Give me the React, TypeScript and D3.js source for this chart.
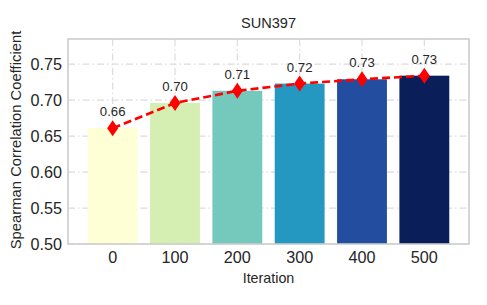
import { useMemo } from "react";
import { scaleBand, scaleLinear, line } from "d3";

const ITERATIONS = ["0", "100", "200", "300", "400", "500"];
const SCORES = [0.661, 0.696, 0.713, 0.723, 0.729, 0.734];
const SCORE_LABELS = ["0.66", "0.70", "0.71", "0.72", "0.73", "0.73"];
const BAR_COLORS = ["#ffffd6", "#d5efb3", "#74c9bc", "#2498c1", "#234ea0", "#0a1f5a"];
const Y_TICKS = [0.5, 0.55, 0.6, 0.65, 0.7, 0.75];

const W = 487;
const H = 305;
const FONT = "'Liberation Sans', Arial, sans-serif";
const TEXT = "#262626";

export default function App() {
  const left = 68;
  const right = 469;
  const top = 39;
  const bottom = 244;

  // matplotlib-ish x margins: bars span [-0.4, 5.4], padded 5%
  const x = useMemo(
    () =>
      scaleBand<string>()
        .domain(ITERATIONS)
        .range([left + 13.5, right - 13.5])
        .paddingInner(0.2)
        .paddingOuter(0.1),
    []
  );
  const y = useMemo(() => scaleLinear().domain([0.5, 0.785]).range([bottom, top]), []);

  const cx = (d: string) => (x(d) ?? 0) + x.bandwidth() / 2;
  const pts = ITERATIONS.map((d, i) => [cx(d), y(SCORES[i])] as [number, number]);
  const path = line()(pts) ?? "";

  const diamond = (px: number, py: number) =>
    `M${px},${py - 8} L${px + 5.5},${py} L${px},${py + 8} L${px - 5.5},${py} Z`;

  return (
    <>
      <style>{"body{margin:0}"}</style>
      <svg width={W} height={H} style={{ display: "block", background: "#fff" }} fontFamily={FONT}>
        {/* grid */}
        {Y_TICKS.map((t) => (
          <line
            key={`gy${t}`}
            x1={left}
            x2={right}
            y1={y(t)}
            y2={y(t)}
            stroke="#dcdcdc"
            strokeWidth={1.2}
            strokeDasharray="7 3 1.5 3"
          />
        ))}
        {ITERATIONS.map((d) => (
          <line
            key={`gx${d}`}
            x1={cx(d)}
            x2={cx(d)}
            y1={top}
            y2={bottom}
            stroke="#dcdcdc"
            strokeWidth={1.2}
            strokeDasharray="7 3 1.5 3"
          />
        ))}

        {/* bars */}
        {ITERATIONS.map((d, i) => (
          <rect
            key={`b${d}`}
            x={x(d)}
            y={y(SCORES[i])}
            width={x.bandwidth()}
            height={bottom - y(SCORES[i])}
            fill={BAR_COLORS[i]}
          />
        ))}

        {/* trend line */}
        <path d={path} fill="none" stroke="#ff0000" strokeWidth={2.6} strokeDasharray="8 4" />
        {pts.map(([px, py], i) => (
          <path key={`m${i}`} d={diamond(px, py)} fill="#ff0000" />
        ))}
        {pts.map(([px, py], i) => (
          <text
            key={`l${i}`}
            x={px}
            y={py - 12}
            textAnchor="middle"
            fontSize={13.2}
            fill={TEXT}
          >
            {SCORE_LABELS[i]}
          </text>
        ))}

        {/* frame */}
        <rect x={left} y={top} width={right - left} height={bottom - top} fill="none" stroke="#cccccc" strokeWidth={1.6} />

        {/* y ticks */}
        {Y_TICKS.map((t) => (
          <text key={`ty${t}`} x={left - 6} y={y(t) + 5.8} textAnchor="end" fontSize={16.2} fill={TEXT}>
            {t.toFixed(2)}
          </text>
        ))}
        {/* x ticks */}
        {ITERATIONS.map((d) => (
          <text key={`tx${d}`} x={cx(d)} y={bottom + 18.7} textAnchor="middle" fontSize={16.2} fill={TEXT}>
            {d}
          </text>
        ))}

        <text x={(left + right) / 2} y={28.3} textAnchor="middle" fontSize={14.6} fill={TEXT}>
          SUN397
        </text>
        <text x={(left + right) / 2} y={282.7} textAnchor="middle" fontSize={14.3} fill={TEXT}>
          Iteration
        </text>
        <text
          transform={`translate(21, 140) rotate(-90)`}
          textAnchor="middle"
          fontSize={14.8}
          fill={TEXT}
        >
          Spearman Correlation Coefficient
        </text>
      </svg>
    </>
  );
}
